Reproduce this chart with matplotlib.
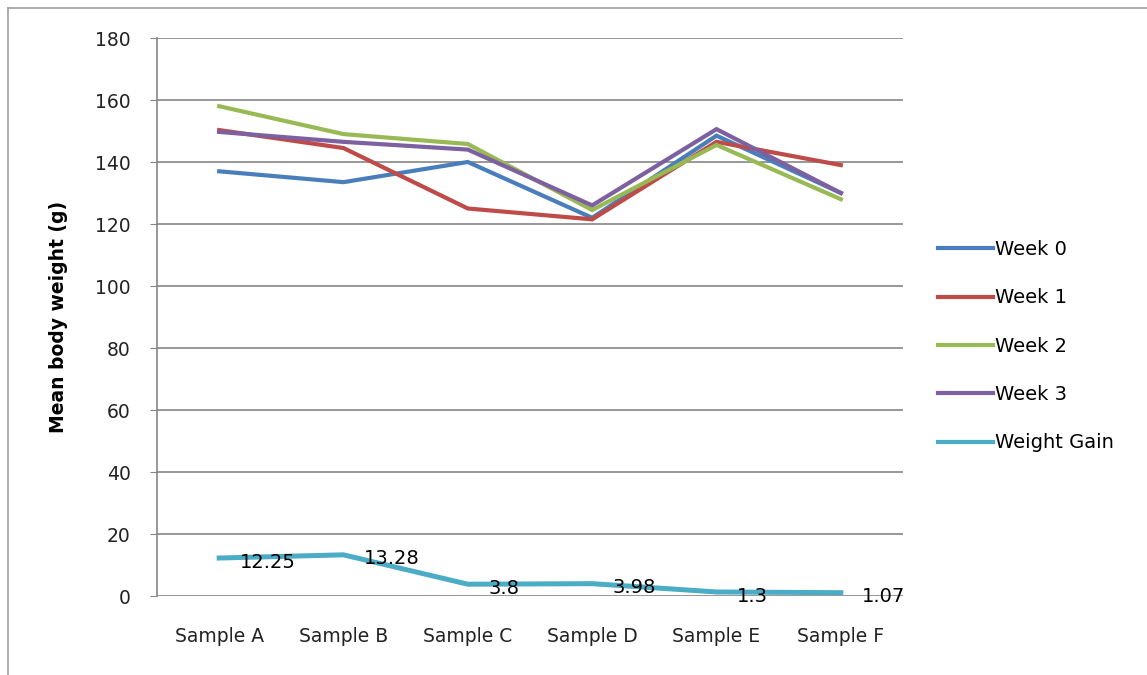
import matplotlib.pyplot as plt
from matplotlib.lines import Line2D

# chart data
samples = ["Sample A", "Sample B", "Sample C", "Sample D", "Sample E", "Sample F"]
week0 = [137, 133.5, 140, 122, 148.5, 130]
week1 = [150.3, 144.5, 125, 121.5, 146.5, 139]
week2 = [158, 149, 145.8, 124.5, 145.5, 128]
week3 = [149.7, 146.5, 144, 126, 150.6, 130]
weight_gain = [12.25, 13.28, 3.8, 3.98, 1.3, 1.07]

series_names = ["Week 0", "Week 1", "Week 2", "Week 3", "Weight Gain"]
colors = ["#4A7EBB", "#BE4B48", "#98B954", "#7D60A0", "#4BACC6"]

plt.rcParams['font.family'] = ['DejaVu Sans']

fig = plt.figure(figsize=(11.47, 6.75), dpi=100)

# outer chart border
fig.add_artist(Line2D([8 / 1147, 8 / 1147], [0, 1 - 8 / 675], color="#A0A0A0", lw=1.2))
fig.add_artist(Line2D([8 / 1147, 1], [1 - 8 / 675, 1 - 8 / 675], color="#A0A0A0", lw=1.2))

ax = fig.add_axes([157 / 1147, 1 - 596 / 675, 746 / 1147, 558 / 675])

x = list(range(len(samples)))
all_series = [week0, week1, week2, week3, weight_gain]
for vals, name, c in zip(all_series, series_names, colors):
    lw = 3.6 if name == "Weight Gain" else 3.0
    ax.plot(x, vals, color=c, lw=lw, label=name, solid_joinstyle='miter')

# data labels for weight gain
for xi, v in zip(x, weight_gain):
    ax.annotate(f"{v:g}", (xi, v), xytext=(15, -3), textcoords='offset points',
                ha='left', va='center', fontsize=14, color="black")

ax.set_xlim(-0.5, len(samples) - 0.5)
ax.set_ylim(0, 180)
ax.set_yticks(range(0, 181, 20))
ax.set_xticks(x)
ax.set_xticklabels(samples)
ax.yaxis.grid(True, color="#868686", lw=1.2)
ax.set_axisbelow(True)

for s in ["top", "right", "bottom"]:
    ax.spines[s].set_visible(False)
ax.spines["left"].set_color("#868686")
ax.spines["left"].set_linewidth(1.2)

ax.tick_params(axis='y', labelsize=13.5, length=5, color="#868686", pad=14,
               labelcolor="#222222")
ax.tick_params(axis='x', labelsize=13.5, length=0, pad=22, labelcolor="#222222")
ax.set_ylabel("Mean body weight (g)", fontsize=13.5, fontweight='bold', labelpad=19)

leg = ax.legend(loc='upper left', bbox_to_anchor=(938 / 1147, 1 - 240 / 675),
                bbox_transform=fig.transFigure, frameon=False, fontsize=14,
                handlelength=2.85, handletextpad=0.1, labelspacing=1.51,
                borderaxespad=0, borderpad=0)
for line in leg.get_lines():
    line.set_linewidth(3)

fig.savefig("out.png", dpi=100)
